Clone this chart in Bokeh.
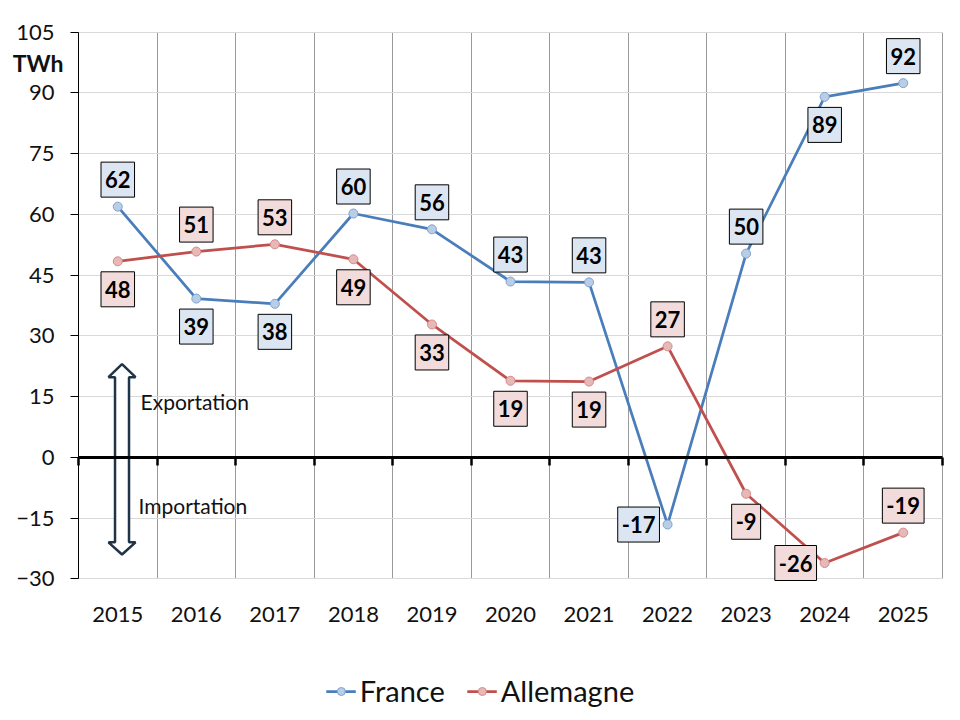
import numpy as np
from bokeh.plotting import figure
from bokeh.models import (ColumnDataSource, Label, Range1d, LinearAxis, Grid,
                          FixedTicker, Legend, LegendItem)
from bokeh.core.properties import value
from bokeh.embed import file_html
from bokeh.resources import INLINE

# ---------------- data ----------------
years = ["2015", "2016", "2017", "2018", "2019", "2020", "2021", "2022", "2023", "2024", "2025"]
france = [61.9, 39.2, 37.9, 60.2, 56.3, 43.4, 43.2, -16.6, 50.3, 89.0, 92.4]
allemagne = [48.4, 50.8, 52.6, 48.9, 32.8, 18.9, 18.7, 27.4, -9.0, -26.1, -18.6]
y_ticks = [-30, -15, 0, 15, 30, 45, 60, 75, 90, 105]
unit_label = "TWh"

# label placement (style)
france_pos = ["up", "down", "down", "up", "up", "up", "up", "left", "up", "down", "up"]
allemagne_pos = ["down", "up", "up", "down", "down", "down", "down", "up", "down", "left", "up"]
OFF = {"up": (0, -27), "down": (0, 28), "left": (-29, 0)}

FONT = "Lato"
BLUE = "#4a7ebb"
BLUE_FILL = "#b9cde5"
BLUE_BOX = "#dce6f2"
RED = "#c0504d"
RED_FILL = "#e6b9b8"
RED_BOX = "#f2dcdb"
TXT = "#111111"

n = len(years)
xs = [i + 0.5 for i in range(n)]
bounds = list(range(0, n + 1))
ymin, ymax = y_ticks[0], y_ticks[-1]

# page geometry: plot area from px 78..942 (x) and 31.6..578.3 (y)
W, H = 960, 720
sx = (942 - 78) / n
sy = (578.3 - 31.6) / (ymax - ymin)
x_range = Range1d(-78 / sx, n + (W - 942) / sx)
y_range = Range1d(ymin - (H - 578.3) / sy, ymax + 31.6 / sy)

p = figure(width=W, height=H, min_border=0,
           x_range=x_range, y_range=y_range,
           x_axis_location=None, y_axis_location=None,
           output_backend="svg", toolbar_location=None, tools="")
p.grid.visible = False
p.outline_line_color = None
p.background_fill_color = "white"
p.border_fill_color = "white"

# grids (limited to the plot area)
p.add_layout(Grid(dimension=0, ticker=FixedTicker(ticks=bounds), cross_bounds=(ymin, ymax),
                  grid_line_color="#9a9a9a", grid_line_width=1))
p.add_layout(Grid(dimension=1, ticker=FixedTicker(ticks=y_ticks), cross_bounds=(0, n),
                  grid_line_color="#d9d9d9", grid_line_width=1))

# y axis
yax = LinearAxis(fixed_location=0, ticker=FixedTicker(ticks=y_ticks), bounds=(ymin, ymax),
                 axis_line_color="black", axis_line_width=1,
                 major_tick_line_color="black", major_tick_out=8, major_tick_in=0,
                 minor_tick_line_color=None, major_label_standoff=16,
                 major_label_text_font=FONT, major_label_text_font_size="22px",
                 major_label_text_color=TXT)
p.add_layout(yax, "left")

# x axis (year labels only)
xax = LinearAxis(fixed_location=ymin, ticker=FixedTicker(ticks=xs),
                 major_label_overrides={x: y for x, y in zip(xs, years)},
                 axis_line_color=None, major_tick_line_color=None, minor_tick_line_color=None,
                 major_label_standoff=22, major_label_text_font=FONT,
                 major_label_text_font_size="22px", major_label_text_color=TXT)
p.add_layout(xax, "below")

# zero axis: thick line with ticks at category boundaries
zax = LinearAxis(fixed_location=0, ticker=FixedTicker(ticks=bounds), bounds=(0, n),
                 axis_line_color="black", axis_line_width=3,
                 major_tick_line_color="black", major_tick_line_width=2.5,
                 major_tick_out=8, major_tick_in=0, minor_tick_line_color=None,
                 major_label_overrides={b: "" for b in bounds},
                 major_label_text_font_size="1px")
p.add_layout(zax, "below")

# double arrow (decoration)
cx, sw, hw = 0.554, 0.089, 0.172
yt, yhb_t, yb, yhb_b = 23.0, 19.8, -24.0, -21.0
ax = [cx, cx + hw, cx + sw, cx + sw, cx + hw, cx, cx - hw, cx - sw, cx - sw, cx - hw]
ay = [yt, yhb_t, yhb_t, yhb_b, yhb_b, yb, yhb_b, yhb_b, yhb_t, yhb_t]
p.patch(ax, ay, fill_color="white", line_color="#1f3447", line_width=2.5)

p.add_layout(Label(x=0.79, y=13.8, text="Exportation", text_font=FONT, text_font_size="21px",
                   text_color=TXT, text_baseline="middle", text_align="left"))
p.add_layout(Label(x=0.764, y=-12.0, text="Importation", text_font=FONT, text_font_size="21px",
                   text_color=TXT, text_baseline="middle", text_align="left"))
p.add_layout(Label(x=0, y=97.3, x_offset=-15, text=unit_label, text_font=FONT,
                   text_font_size="23px", text_font_style="bold", text_color=TXT,
                   text_baseline="middle", text_align="right"))

# series
src_f = ColumnDataSource(dict(x=xs, y=france, lab=[str(int(round(v))) for v in france],
                              dx=[OFF[k][0] for k in france_pos], dy=[OFF[k][1] for k in france_pos]))
src_a = ColumnDataSource(dict(x=xs, y=allemagne, lab=[str(int(round(v))) for v in allemagne],
                              dx=[OFF[k][0] for k in allemagne_pos], dy=[OFF[k][1] for k in allemagne_pos]))

fl = p.line("x", "y", source=src_f, line_color=BLUE, line_width=2.75)
fs = p.scatter("x", "y", source=src_f, size=9, fill_color=BLUE_FILL, line_color="#7fa3d3", line_width=1)
al = p.line("x", "y", source=src_a, line_color=RED, line_width=2.75)
as_ = p.scatter("x", "y", source=src_a, size=9, fill_color=RED_FILL, line_color="#d68a88", line_width=1)

for src, box in ((src_f, BLUE_BOX), (src_a, RED_BOX)):
    p.text(x="x", y="y", text="lab", source=src, x_offset="dx", y_offset="dy",
           text_font=value(FONT), text_font_size="22px", text_font_style="bold",
           text_color="black", text_align="center", text_baseline="middle",
           background_fill_color=box, border_line_color="black",
           border_line_width=1, padding=(4, 9))

legend = Legend(items=[LegendItem(label="France", renderers=[fl, fs]),
                       LegendItem(label="Allemagne", renderers=[al, as_])],
                orientation="horizontal", location="bottom_center",
                label_text_font=FONT, label_text_font_size="29px", label_text_color=TXT,
                glyph_width=30, label_standoff=4, spacing=22,
                border_line_color=None, background_fill_alpha=0, margin=12, padding=0)
p.add_layout(legend)

open("out.html", "w").write(file_html(p, INLINE))
